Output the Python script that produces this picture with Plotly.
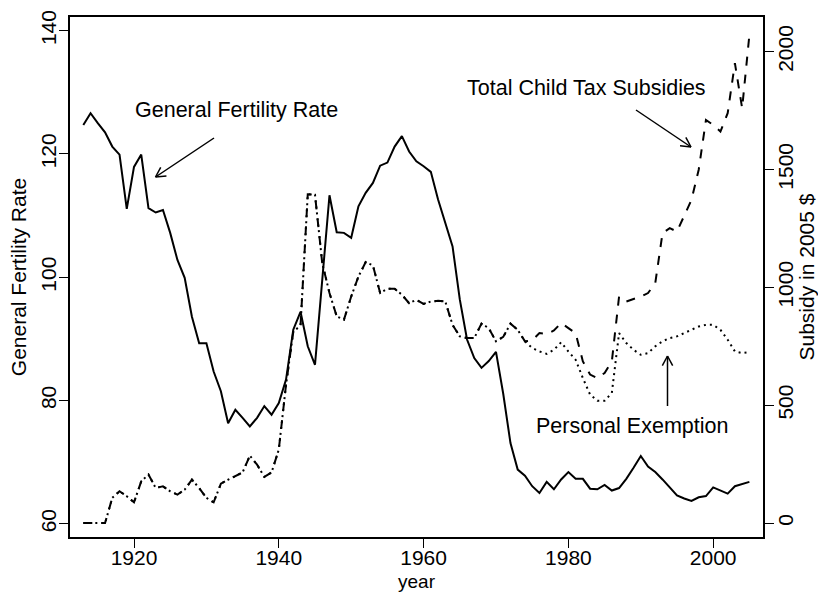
import math
import plotly.graph_objects as go

# ---------------- data ----------------
years = list(range(1913, 2006))

gfr = [124.7, 126.6, 125.0, 123.5, 121.2, 119.9, 111.1, 117.9, 119.9, 111.2,
       110.5, 110.9, 107.2, 102.8, 99.9, 93.6, 89.3, 89.3, 84.7, 81.5,
       76.3, 78.5, 77.2, 75.8, 77.2, 79.1, 77.7, 79.6, 83.4, 91.5,
       94.4, 88.8, 85.8, 99.5, 113.3, 107.3, 107.2, 106.4, 111.5, 113.7,
       115.3, 118.1, 118.6, 121.2, 122.9, 120.4, 118.8, 118.0, 117.1, 112.6,
       108.8, 105.0, 96.4, 89.9, 86.9, 85.3, 86.4, 87.9, 81.1, 73.1,
       68.8, 67.8, 66.1, 65.0, 66.8, 65.6, 67.2, 68.4, 67.3, 67.3,
       65.7, 65.6, 66.3, 65.4, 65.8, 67.3, 69.1, 71.0, 69.3, 68.4,
       67.2, 65.9, 64.6, 64.1, 63.7, 64.3, 64.5, 65.9, 65.4, 64.9,
       66.1, 66.4, 66.8]

# years 1913-1974: personal exemption and total subsidies coincide
common_1913_1974 = [0, 0, 0, 0, 107, 135, 114, 88, 177, 206,
                    149, 156, 135, 121, 142, 184, 149, 107, 88, 167,
                    184, 198, 215, 286, 248, 196, 215, 312, 587, 812,
                    838, 1395, 1393, 1103, 976, 877, 863, 961, 1046, 1107,
                    1093, 976, 994, 994, 969, 933, 947, 930, 940, 943,
                    940, 841, 792, 785, 785, 846, 827, 771, 790, 846,
                    820, 771]

exemption_1975_2005 = [743, 728, 718, 735, 767, 728, 693, 615, 545, 519,
                       519, 552, 806, 764, 735, 714, 721, 750, 771, 785,
                       792, 806, 820, 834, 841, 841, 820, 778, 728, 721,
                       725]

total_1975_2005 = [775, 806, 802, 817, 849, 827, 806, 686, 630, 615,
                   637, 686, 961, 940, 950, 961, 976, 1018, 1230, 1251,
                   1237, 1301, 1371, 1499, 1710, 1689, 1661, 1739, 1951, 1760,
                   2071]

exemption = common_1913_1974 + exemption_1975_2005
total = common_1913_1974 + total_1975_2005

x_ticks = [1920, 1940, 1960, 1980, 2000]
gfr_ticks = [60, 80, 100, 120, 140]
sub_ticks = [0, 500, 1000, 1500, 2000]

# ---------------- layout geometry ----------------
FIG_W, FIG_H = 818, 593
L, R, T, B = 70, 763, 17, 537
W, H = R - L, B - T

FONT = "Liberation Sans, Arial, Helvetica, sans-serif"
BLACK = "#000000"

fig = go.Figure()

fig.add_trace(go.Scatter(x=years, y=gfr, mode="lines", name="General Fertility Rate",
                         line=dict(color=BLACK, width=2), yaxis="y"))
fig.add_trace(go.Scatter(x=years, y=total, mode="lines", name="Total Child Tax Subsidies",
                         line=dict(color=BLACK, width=2, dash="9px,9px"), yaxis="y2"))
fig.add_trace(go.Scatter(x=years, y=exemption, mode="lines", name="Personal Exemption",
                         line=dict(color=BLACK, width=2, dash="2px,4px"), yaxis="y2"))


def pp(px, py):
    return (px - L) / W, (B - py) / H


shapes = []


def arrow(tx, ty, hx, hy, head=11, ang=28):
    x0, y0 = pp(tx, ty)
    x1, y1 = pp(hx, hy)
    shapes.append(dict(type="line", xref="paper", yref="paper", x0=x0, y0=y0, x1=x1, y1=y1,
                       line=dict(color=BLACK, width=1.5)))
    dx, dy = tx - hx, ty - hy
    n = math.hypot(dx, dy)
    ux, uy = dx / n, dy / n
    for s in (1, -1):
        a = math.radians(ang) * s
        rx = ux * math.cos(a) - uy * math.sin(a)
        ry = ux * math.sin(a) + uy * math.cos(a)
        ex, ey = pp(hx + rx * head, hy + ry * head)
        shapes.append(dict(type="line", xref="paper", yref="paper", x0=x1, y0=y1, x1=ex, y1=ey,
                           line=dict(color=BLACK, width=1.5)))


arrow(214, 138, 155.5, 177)
arrow(636, 110, 691, 147)
arrow(667.5, 406, 667.5, 356)

annotations = []


def label(text, cx, cy, size=21.5):
    x, y = pp(cx, cy)
    annotations.append(dict(text=text, x=x, y=y, xref="paper", yref="paper",
                            xanchor="center", yanchor="middle", showarrow=False,
                            font=dict(family=FONT, size=size, color=BLACK)))


label("General Fertility Rate", 236, 110)
label("Total Child Tax Subsidies", 586, 88)
label("Personal Exemption", 631.5, 426)
label("year", 416.5, 581, size=19)   # x-axis title

axis_common = dict(showgrid=False, zeroline=False, showline=True, linecolor=BLACK,
                   linewidth=1.5, ticks="outside", ticklen=9, tickwidth=1,
                   tickcolor=BLACK, automargin=False,
                   tickfont=dict(family=FONT, size=21, color=BLACK))

fig.update_layout(
    width=FIG_W, height=FIG_H,
    margin=dict(l=L, r=FIG_W - R, t=T, b=FIG_H - B, pad=0, autoexpand=False),
    paper_bgcolor="white", plot_bgcolor="white",
    showlegend=False,
    font=dict(family=FONT, size=21, color=BLACK),
    xaxis=dict(range=[1911.16, 2006.88], tickvals=x_ticks, mirror=True,
               ticklabelstandoff=-8, **axis_common),
    yaxis=dict(range=[57.86, 142.22], tickvals=gfr_ticks, tickangle=-90, mirror=True,
               title=dict(text="General Fertility Rate", font=dict(family=FONT, size=21, color=BLACK),
                          standoff=4),
               ticklabelstandoff=-5, **axis_common),
    yaxis2=dict(range=[-59, 2147], tickvals=sub_ticks, tickangle=-90, overlaying="y", side="right",
                title=dict(text="Subsidy in 2005 $", font=dict(family=FONT, size=21, color=BLACK),
                           standoff=9),
                ticklabelstandoff=-6, **axis_common),
    shapes=shapes,
    annotations=annotations,
)

fig.write_html("out.html",
               config={"displayModeBar": False},
               post_script="document.body.style.margin='0';document.body.style.padding='0';")
